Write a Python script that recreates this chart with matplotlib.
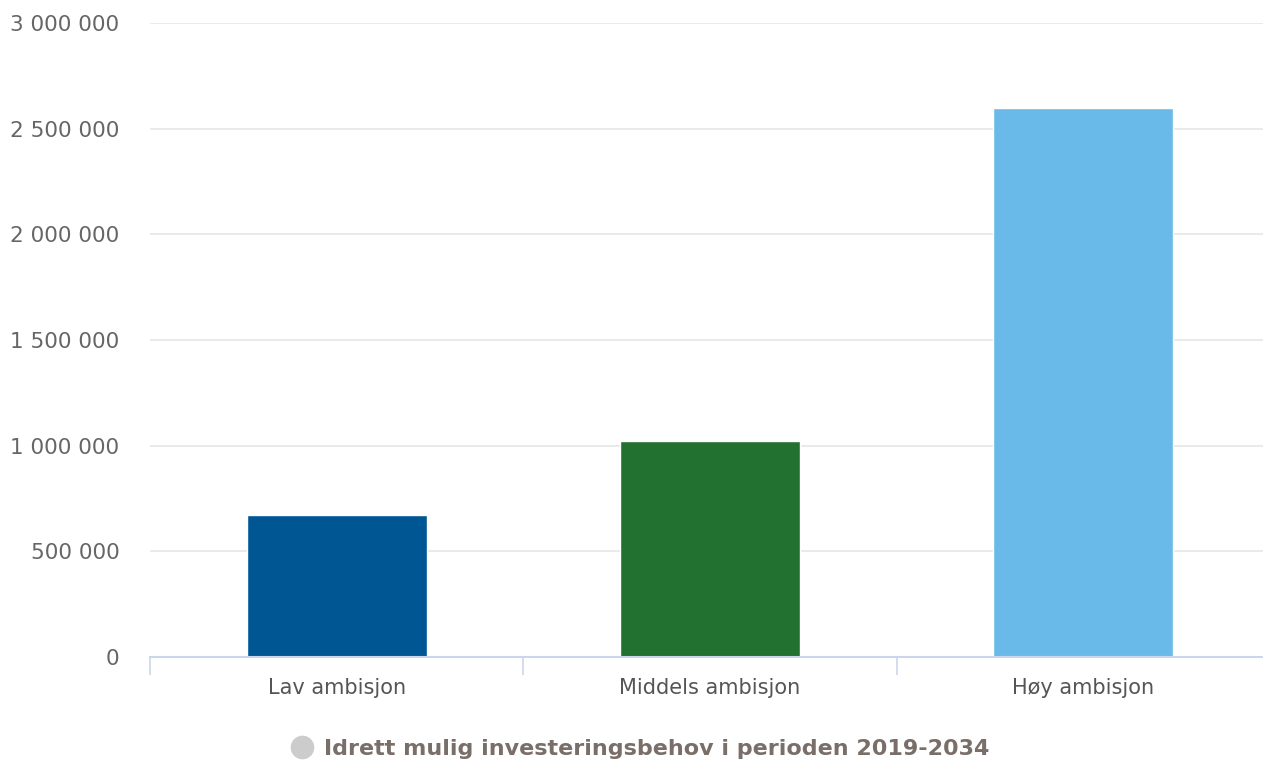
import matplotlib
matplotlib.use('Agg')
import matplotlib.pyplot as plt
from matplotlib.lines import Line2D
from matplotlib.ticker import FuncFormatter, FixedLocator

# Investment need per ambition level
categories = ['Lav ambisjon', 'Middels ambisjon', 'Høy ambisjon']
values = [672000, 1022000, 2598000]
bar_colors = ['#005693', '#227131', '#69bae8']
series_name = 'Idrett mulig investeringsbehov i perioden 2019-2034'

fig = plt.figure(figsize=(12.63, 7.62), dpi=100)
# plot area runs a little past the right edge of the figure
ax = fig.add_axes([150 / 1263, 1 - 657 / 762, 1120 / 1263, 634 / 762])

x = range(len(categories))
ax.bar(x, values, width=0.482, color=bar_colors, edgecolor='white', linewidth=1, zorder=3)

ax.set_xlim(-0.5, len(categories) - 0.5)
ax.set_ylim(0, 3000000)
ax.set_yticks([0, 500000, 1000000, 1500000, 2000000, 2500000, 3000000])
ax.yaxis.set_major_formatter(FuncFormatter(lambda v, p: f'{int(v):,}'.replace(',', ' ')))
ax.grid(axis='y', color='#e6e6e6', linewidth=1.2, zorder=0)

ax.set_xticks(list(x))
ax.set_xticklabels(categories)
ax.xaxis.set_minor_locator(FixedLocator([i - 0.5 for i in range(len(categories) + 1)]))
ax.tick_params(axis='x', which='major', length=0, pad=15, labelsize=15, labelcolor='#555555')
ax.tick_params(axis='x', which='minor', length=13, width=1.2, color='#ccd6eb')
ax.tick_params(axis='y', length=0, pad=22, labelsize=15.5, labelcolor='#666666')

for side in ['top', 'right', 'left']:
    ax.spines[side].set_visible(False)
ax.spines['bottom'].set_color('#ccd6eb')
ax.spines['bottom'].set_linewidth(1.5)
ax.spines['bottom'].set_zorder(4)

handle = Line2D([], [], marker='o', linestyle='none', markersize=16,
                markerfacecolor='#cccccc', markeredgecolor='#cccccc')
leg = fig.legend([handle], [series_name], loc='center', bbox_to_anchor=(0.507, 1 - 749 / 762),
                 frameon=False, handletextpad=0.5, handlelength=1.0, borderpad=0, borderaxespad=0,
                 prop={'weight': 'bold', 'size': 16})
for t in leg.get_texts():
    t.set_color('#7a6e68')

fig.savefig('out.png', dpi=100)
